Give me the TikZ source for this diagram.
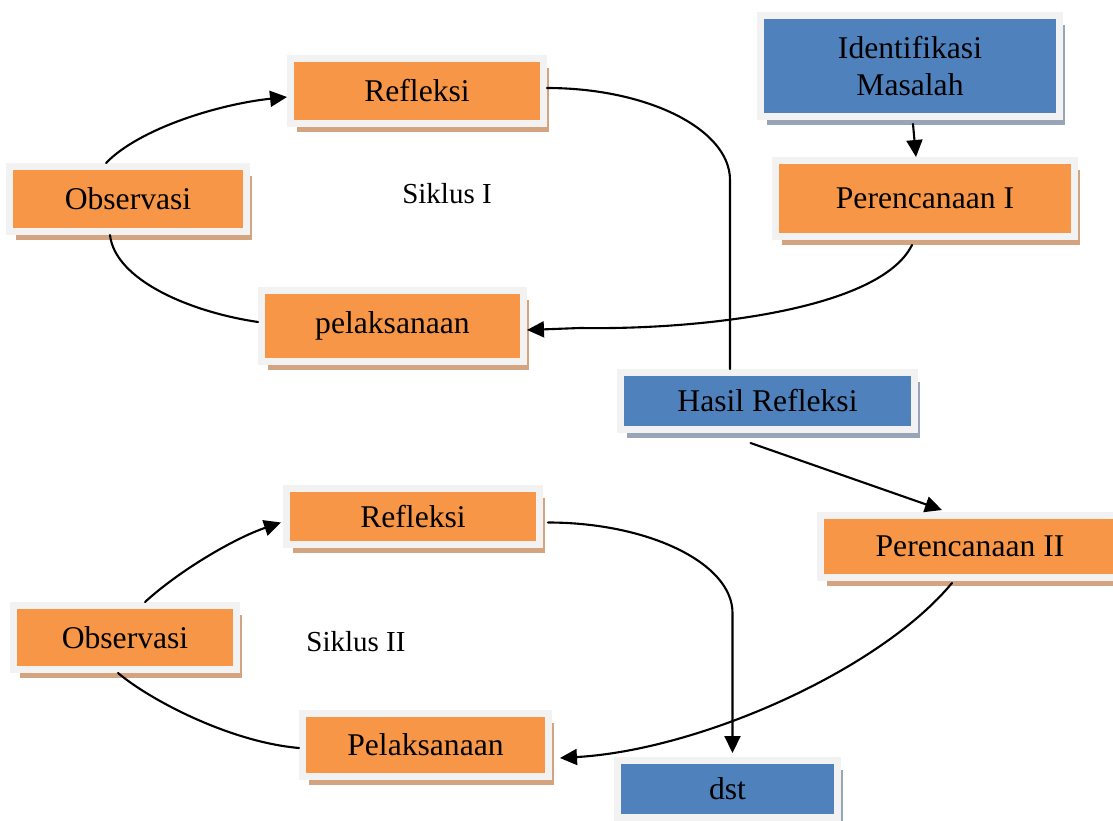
\documentclass[tikz,border=0pt]{standalone}
\usepackage{fontspec}
\setmainfont{Liberation Serif}
\usetikzlibrary{arrows.meta,shadows,calc}

\definecolor{boxorange}{HTML}{F79646}
\definecolor{boxblue}{HTML}{4F81BD}
\definecolor{boxgray}{HTML}{F2F2F2}
\definecolor{shadeorange}{HTML}{D4A480}
\definecolor{shadeblue}{HTML}{98A4B7}

\tikzset{
  stepbox/.style={draw=boxgray, line width=0.14cm, inner sep=0pt, align=center,
    font=\fontsize{18}{21}\selectfont},
  orangebox/.style={stepbox, fill=boxorange,
    general shadow={fill=shadeorange, shadow xshift=0.12cm, shadow yshift=-0.18cm}},
  bluebox/.style={stepbox, fill=boxblue,
    general shadow={fill=shadeblue, shadow xshift=0.12cm, shadow yshift=-0.18cm}},
  flow/.style={line width=1.2pt, line cap=round},
  flowarrow/.style={flow, -{Triangle[length=0.34cm, width=0.32cm]}},
  cyclelabel/.style={font=\fontsize{16.5}{19}\selectfont},
}

\begin{document}
\begin{tikzpicture}[x=0.02cm, y=-0.02cm]

    % page frame, one unit = one pixel of the reference
    \useasboundingbox (0,0) rectangle (1113,821);

    % start of the cycle
    \node[bluebox, minimum width=5.98cm, minimum height=2.02cm] (idm) at (910,66) {Identifikasi\\Masalah};
    \node[orangebox, minimum width=5.98cm, minimum height=1.52cm] (per1) at (925,198.5) {Perencanaan I};

    % first cycle
    \node[orangebox, minimum width=5.06cm, minimum height=1.30cm] (re1) at (417,91) {Refleksi};
    \node[orangebox, minimum width=4.74cm, minimum height=1.30cm] (ob1) at (128,199) {Observasi};
    \node[orangebox, minimum width=5.24cm, minimum height=1.42cm] (pel1) at (392.5,326) {pelaksanaan};
    \node[cyclelabel] (sik1) at (447,194) {Siklus I};

    \node[bluebox, minimum width=5.88cm, minimum height=1.14cm] (hr) at (767.5,401) {Hasil Refleksi};

    % second cycle
    \node[orangebox, minimum width=5.98cm, minimum height=1.24cm] (per2) at (970,546.5) {Perencanaan II};
    \node[orangebox, minimum width=5.06cm, minimum height=1.12cm] (re2) at (413,516.5) {Refleksi};
    \node[orangebox, minimum width=4.46cm, minimum height=1.28cm] (ob2) at (125,637.5) {Observasi};
    \node[orangebox, minimum width=4.92cm, minimum height=1.26cm] (pel2) at (425.5,745) {Pelaksanaan};
    \node[cyclelabel] (sik2) at (356,642) {Siklus II};
    \node[bluebox, minimum width=4.40cm, minimum height=1.14cm] (dst) at (727.5,789) {dst};

    % connectors of the first cycle
    \draw[flowarrow] ($(idm.south)+(3,4)$) -- ($(per1.north)+(-9,0)$);
    \draw[flowarrow] ($(per1.south)+(-13,5)$) .. controls (880,310) and (700,330) .. (580,328)
        -- ($(pel1.east)+(0,4)$);
    \draw[flow] ($(ob1.south)+(-18,0)$) .. controls (115,280) and (190,312) .. ($(pel1.west)+(0,-4)$);
    \draw[flowarrow] ($(ob1.north)+(-22,0)$) .. controls (140,128) and (220,104) .. ($(re1.west)+(0,6)$);
    \draw[flow] ($(re1.east)+(0,-3)$) .. controls +(100,0) and +(0,-51) .. ($(hr.north)+(-37.5,-189)$)
        -- ($(hr.north)+(-37.5,0)$);

    % connectors of the second cycle
    \draw[flowarrow] ($(hr.south)+(-17,10)$) -- ($(per2.north)+(-28,-2)$);
    \draw[flowarrow] ($(per2.south)+(-18,2)$) .. controls (880,670) and (700,750) .. ($(pel2.east)+(8,13)$);
    \draw[flow] ($(ob2.south)+(-7,0)$) .. controls (150,700) and (230,742) .. ($(pel2.west)+(0,3)$);
    \draw[flowarrow] ($(ob2.north)+(20,0)$) .. controls (180,570) and (235,538) .. ($(re2.west)+(-2,6)$);
    \draw[flowarrow] ($(re2.east)+(5,6)$) .. controls +(100,0) and +(0,-50) .. ($(dst.north)+(5,-144)$)
        -- ($(dst.north)+(5,-4)$);

\end{tikzpicture}
\end{document}
